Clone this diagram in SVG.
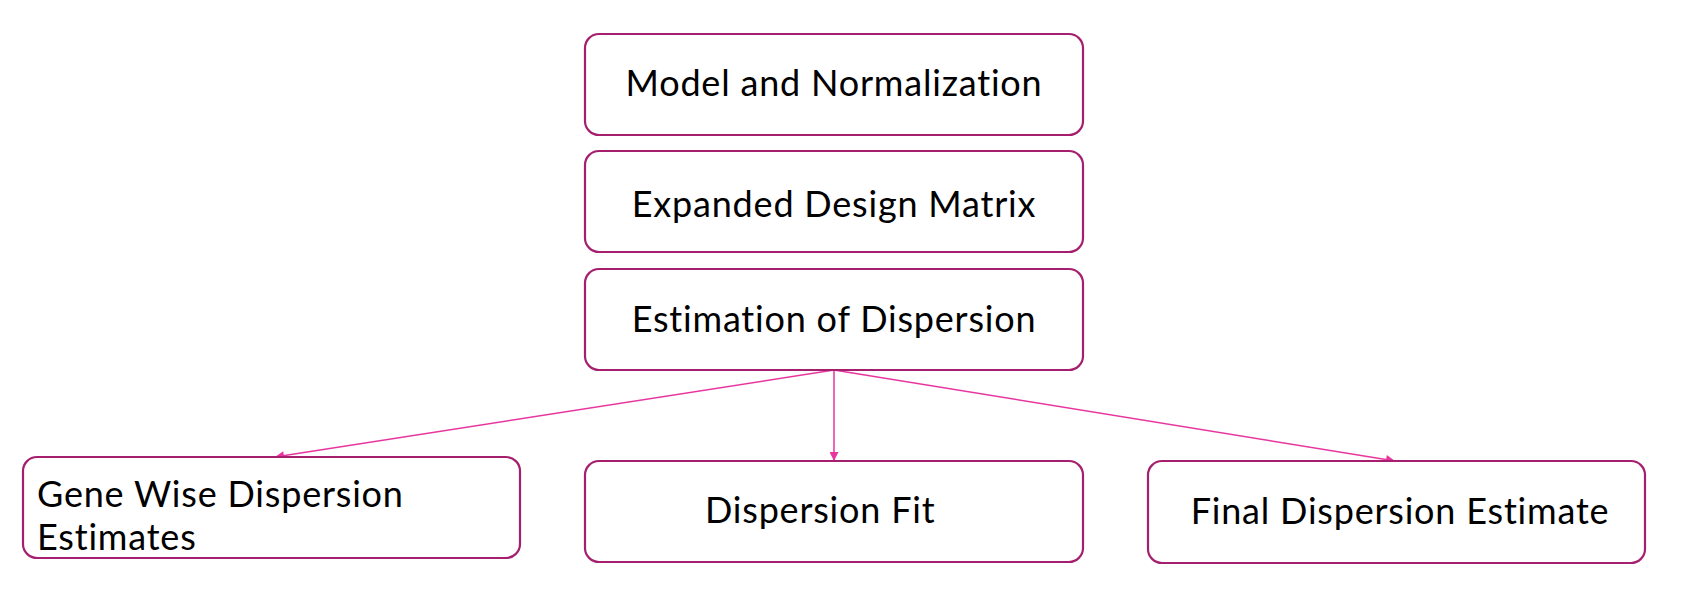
<svg xmlns="http://www.w3.org/2000/svg" width="1694" height="612" viewBox="0 0 1694 612">
<defs>
<style>
.box{fill:#ffffff;stroke:#A61F6F;stroke-width:2.2}
.lbl{font-family:Lato,"Open Sans","Liberation Sans",sans-serif;font-size:36px;letter-spacing:0.8px;font-variant-ligatures:none;fill:#000000}
.c{text-anchor:middle}
.edge{stroke:#E8369F;stroke-width:1.5;fill:none}
</style>
<marker id="arr" viewBox="0 0 10 10" refX="10" refY="5" markerWidth="11" markerHeight="9" markerUnits="userSpaceOnUse" orient="auto">
<path d="M0,0 L10,5 L0,10 Z" fill="#E8369F"/>
</marker>
</defs>
<rect width="1694" height="612" fill="#ffffff"/>
<g id="connectors">
<line class="edge" x1="834" y1="370" x2="275" y2="457" marker-end="url(#arr)"/>
<line class="edge" x1="834" y1="370" x2="834" y2="461" marker-end="url(#arr)"/>
<line class="edge" x1="834" y1="370" x2="1395" y2="461" marker-end="url(#arr)"/>
</g>
<g id="model">
<rect class="box" x="585" y="34" width="498" height="101" rx="14"/>
<text class="lbl c" x="834" y="96">Model and Normalization</text>
</g>
<g id="design">
<rect class="box" x="585" y="151" width="498" height="101" rx="14"/>
<text class="lbl c" x="834" y="217">Expanded Design Matrix</text>
</g>
<g id="estimation">
<rect class="box" x="585" y="269" width="498" height="101" rx="14"/>
<text class="lbl c" x="834" y="332">Estimation of Dispersion</text>
</g>
<g id="genewise">
<rect class="box" x="23" y="457" width="497" height="101" rx="14"/>
<text class="lbl" x="37" y="507">Gene Wise Dispersion</text>
<text class="lbl" x="37" y="550">Estimates</text>
</g>
<g id="fit">
<rect class="box" x="585" y="461" width="498" height="101" rx="14"/>
<text class="lbl" x="705" y="523">Dispersion Fit</text>
</g>
<g id="final">
<rect class="box" x="1148" y="461" width="497" height="102" rx="14"/>
<text class="lbl c" x="1400" y="524">Final Dispersion Estimate</text>
</g>
</svg>
